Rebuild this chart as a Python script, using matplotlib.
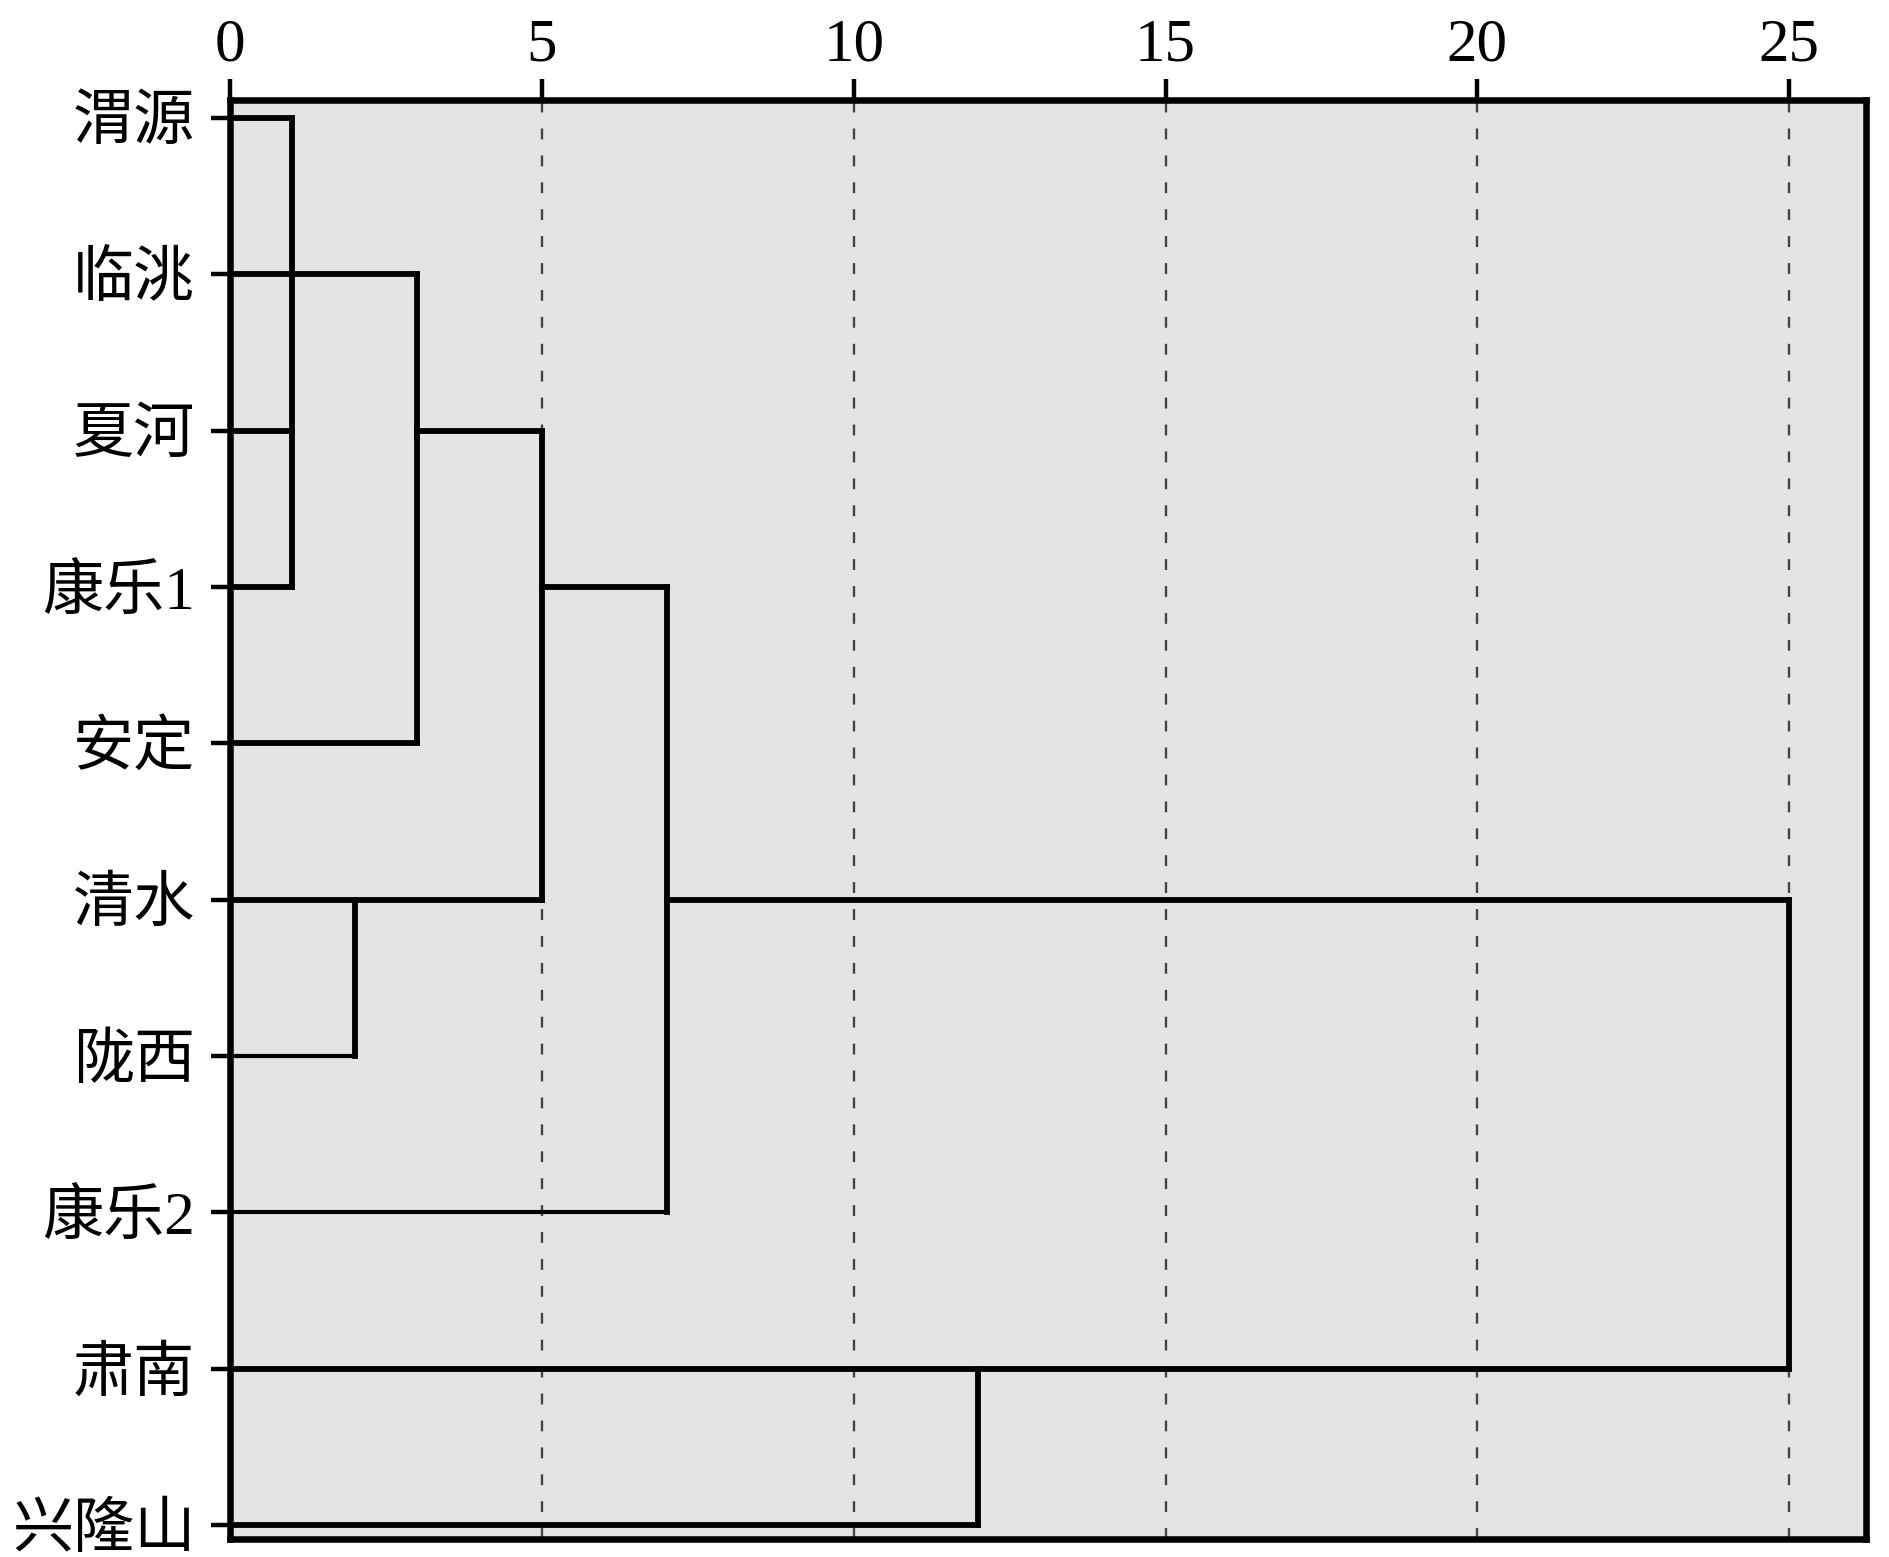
import matplotlib
matplotlib.use("Agg")
import matplotlib.pyplot as plt

# 叶节点（自上而下）
labels = ['渭源', '临洮', '夏河', '康乐1', '安定', '清水', '陇西', '康乐2', '肃南', '兴隆山']
# 每个叶节点水平线的终点（重新标度的距离）
leaf_join = [1, 3, 1, 1, 3, 5, 2, 7, 25, 12]

# 合并处的竖线：距离、上端行、下端行
merge_dist = [1, 3, 5, 2, 7, 25, 12]
merge_top = [0, 1, 2, 5, 3, 5, 8]
merge_bottom = [3, 4, 5, 6, 7, 8, 9]

# 合并之间的连接水平线：所在行、起点、终点
link_row = [2, 3, 5]
link_start = [3, 5, 7]
link_end = [5, 7, 25]

x_ticks = [0, 5, 10, 15, 20, 25]

thin_leaves = {'陇西', '康乐2'}

fig = plt.figure(figsize=(18.9, 15.57), dpi=100)
ax = fig.add_axes([0.1217, 0.0116, 0.8656, 0.9242])
ax.set_facecolor('#e4e4e4')

# 虚线网格
for t in x_ticks[1:]:
    ax.axvline(t, color='#444444', lw=1.7, linestyle=(0, (4.6, 6.8)), zorder=1)

# 叶节点水平线
for i, (name, xe) in enumerate(zip(labels, leaf_join)):
    lw = 3.0 if name in thin_leaves else 4.2
    ax.plot([0, xe], [i, i], color='black', lw=lw, solid_capstyle='projecting', zorder=3)

# 竖线
for d, a, b in zip(merge_dist, merge_top, merge_bottom):
    ax.plot([d, d], [a, b], color='black', lw=4.2, solid_capstyle='projecting', zorder=3)

# 连接线
for r, s, e in zip(link_row, link_start, link_end):
    ax.plot([s, e], [r, r], color='black', lw=4.2, solid_capstyle='projecting', zorder=3)

ax.set_xlim(0, 26.23)
ax.set_ylim(9.09, -0.115)

ax.xaxis.tick_top()
ax.set_xticks(x_ticks)
ax.set_xticklabels([str(t) for t in x_ticks], family=['Liberation Serif'], fontsize=44)
ax.set_yticks(range(len(labels)))
ax.set_yticklabels(labels, family=['Liberation Serif', 'Noto Sans CJK SC'], fontsize=44)
ax.tick_params(axis='x', direction='out', length=15, width=3.2, pad=4)
ax.tick_params(axis='y', direction='out', length=14, width=3.2, pad=11)

for sp in ax.spines.values():
    sp.set_linewidth(4.7)
    sp.set_color('black')

fig.savefig('out.png', dpi=100)
